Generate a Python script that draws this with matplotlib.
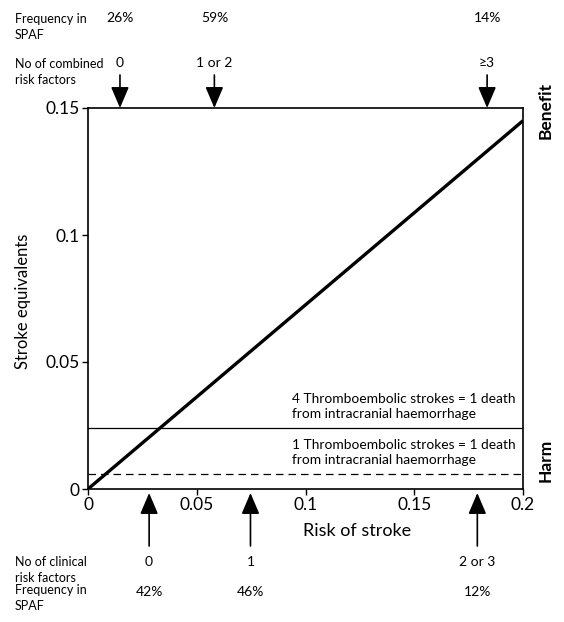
import numpy as np
import matplotlib
matplotlib.use('Agg')
import matplotlib.pyplot as plt

plt.rcParams['font.family'] = ['Lato', 'DejaVu Sans']

# main line: net benefit in stroke equivalents vs risk of stroke
risk = [0.0, 0.2]
equiv = [0.0, 0.145]

# threshold lines
thresh_4 = 0.024
thresh_1 = 0.006
thresh_4_label = '4 Thromboembolic strokes = 1 death\nfrom intracranial haemorrhage'
thresh_1_label = '1 Thromboembolic strokes = 1 death\nfrom intracranial haemorrhage'

# top arrows (combined risk factors)
top_x = [0.0147, 0.0581, 0.1835]
top_labels = ['0', '1 or 2', '\u2265' + '3']
top_freq = ['26%', '59%', '14%']

# bottom arrows (clinical risk factors)
bot_x = [0.0281, 0.0747, 0.179]
bot_labels = ['0', '1', '2 or 3']
bot_freq = ['42%', '46%', '12%']

W, H = 564, 622
fig = plt.figure(figsize=(W / 100, H / 100), dpi=100)
ax = fig.add_axes([88 / W, 1 - 489 / H, (523 - 88) / W, (489 - 108) / H])

def fy(y):
    return 1 - y / H

arrow = dict(arrowstyle='-|>,head_length=0.54,head_width=0.23', color='black', lw=1.2,
             mutation_scale=24, shrinkA=0, shrinkB=0)

ax.plot(risk, equiv, color='black', lw=2.4, solid_capstyle='butt')
ax.axhline(thresh_4, color='black', lw=0.9)
ax.axhline(thresh_1, color='black', lw=0.9, ls=(0, (6, 4)))
ax.text(0.094, thresh_4 + 0.0032, thresh_4_label, fontsize=9.9, va='bottom', ha='left', linespacing=1.25)
ax.text(0.094, thresh_1 + 0.0032, thresh_1_label, fontsize=9.9, va='bottom', ha='left', linespacing=1.25)

ax.set_xlim(0, 0.2)
ax.set_ylim(0, 0.15)
ax.set_xticks([0, 0.05, 0.1, 0.15, 0.2])
ax.set_xticklabels(['0', '0.05', '0.1', '0.15', '0.2'])
ax.set_yticks([0, 0.05, 0.1, 0.15])
ax.set_yticklabels(['0', '0.05', '0.1', '0.15'])
ax.tick_params(labelsize=12.5, length=4, width=1, pad=2)
for s in ax.spines.values():
    s.set_linewidth(1.2)
ax.set_xlabel('Risk of stroke', fontsize=13, va='center')
ax.xaxis.set_label_coords((357 - 88) / 435, -(531 - 489) / 381)
ax.set_ylabel('Stroke equivalents', fontsize=12, va='center')
ax.yaxis.set_label_coords(-(88 - 23) / 435, (489 - 301) / 381)
fig.text(546 / W, fy(110), 'Benefit', rotation=90, fontsize=12.5, fontweight='bold', ha='center', va='center')
fig.text(546 / W, fy(460), 'Harm', rotation=90, fontsize=12.5, fontweight='bold', ha='center', va='center')

# top annotations
for x, lab, fr in zip(top_x, top_labels, top_freq):
    ax.annotate('', xy=(x, 0.15), xytext=(x, 0.15 + 33 / 381 * 0.15), annotation_clip=False,
                arrowprops=arrow)
    xf = ax.transData.transform((x, 0))[0] / W
    fig.text(xf, fy(63), lab, fontsize=10, ha='center', va='center')
    fig.text(xf, fy(18), fr, fontsize=10, ha='center', va='center')
fig.text(15 / W, fy(72), 'No of combined\nrisk factors', fontsize=9, ha='left', va='center', linespacing=1.35)
fig.text(15 / W, fy(27), 'Frequency in\nSPAF', fontsize=9, ha='left', va='center', linespacing=1.35)

# bottom annotations
for x, lab, fr in zip(bot_x, bot_labels, bot_freq):
    ax.annotate('', xy=(x, -4 / 381 * 0.15), xytext=(x, -57 / 381 * 0.15), annotation_clip=False,
                arrowprops=arrow)
    xf = ax.transData.transform((x, 0))[0] / W
    fig.text(xf, fy(562), lab, fontsize=10, ha='center', va='center')
    fig.text(xf, fy(592), fr, fontsize=10, ha='center', va='center')
fig.text(15 / W, fy(570), 'No of clinical\nrisk factors', fontsize=9, ha='left', va='center', linespacing=1.35)
fig.text(15 / W, fy(598), 'Frequency in\nSPAF', fontsize=9, ha='left', va='center', linespacing=1.35)

fig.savefig('out.png', dpi=100)
